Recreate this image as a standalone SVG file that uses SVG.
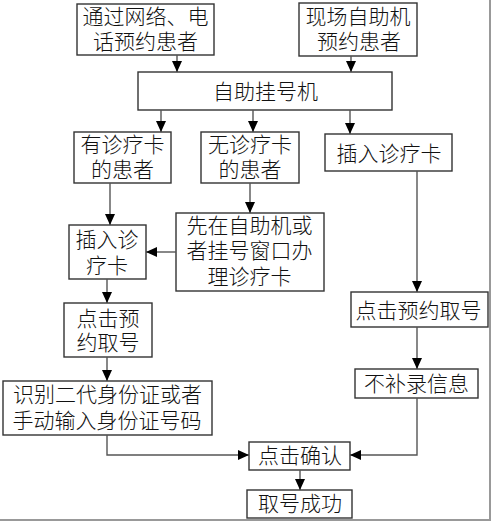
<svg xmlns="http://www.w3.org/2000/svg" width="491" height="521" viewBox="0 0 491 521">
<defs>
<marker id="ah" markerUnits="userSpaceOnUse" markerWidth="12" markerHeight="12" viewBox="0 0 12 12" refX="11" refY="6" orient="auto">
<path d="M0,1 L11,6 L0,11 Z" fill="#000"/>
</marker>
<style>
.box{fill:#fff;stroke:#333;stroke-width:1.4}
.t{font-family:"Liberation Serif","Noto Sans CJK SC",serif;font-size:21px;font-weight:300;fill:#111;text-anchor:middle}
.c{fill:none;stroke:#555;stroke-width:1.4;marker-end:url(#ah)}
.frame{stroke:#999;stroke-width:2}
</style>
</defs>
<rect width="491" height="521" fill="#fff"/>
<line class="frame" x1="490" y1="0" x2="490" y2="521"/>
<line class="frame" x1="0" y1="520" x2="491" y2="520"/>
<g id="n1"><rect class="box" x="77" y="4" width="137" height="51"/><text class="t" x="145.5" y="24">通过网络、电</text><text class="t" x="145.5" y="49">话预约患者</text></g>
<g id="n2"><rect class="box" x="299" y="3" width="118" height="53"/><text class="t" x="358" y="24">现场自助机</text><text class="t" x="359" y="49">预约患者</text></g>
<g id="n3"><rect class="box" x="138" y="72" width="254" height="38"/><text class="t" x="265.5" y="99">自助挂号机</text></g>
<g id="n4"><rect class="box" x="74" y="132" width="97" height="51"/><text class="t" x="122.5" y="152">有诊疗卡</text><text class="t" x="122.5" y="176.5">的患者</text></g>
<g id="n5"><rect class="box" x="201" y="132" width="98" height="51"/><text class="t" x="250" y="152">无诊疗卡</text><text class="t" x="250" y="176.5">的患者</text></g>
<g id="n6"><rect class="box" x="325" y="134" width="127" height="37"/><text class="t" x="389" y="161">插入诊疗卡</text></g>
<g id="n7"><rect class="box" x="69" y="225" width="77" height="54"/><text class="t" x="107" y="247">插入诊</text><text class="t" x="107" y="273">疗卡</text></g>
<g id="n8"><rect class="box" x="176" y="213" width="148" height="78"/><text class="t" x="249.5" y="233">先在自助机或</text><text class="t" x="249.5" y="258">者挂号窗口办</text><text class="t" x="249.5" y="284">理诊疗卡</text></g>
<g id="n9"><rect class="box" x="351" y="292" width="137" height="35"/><text class="t" x="418.5" y="318">点击预约取号</text></g>
<g id="n10"><rect class="box" x="64" y="303" width="88" height="54"/><text class="t" x="108" y="325.5">点击预</text><text class="t" x="108" y="349.5">约取号</text></g>
<g id="n11"><rect class="box" x="3" y="381" width="209" height="54"/><text class="t" x="107.5" y="402">识别二代身份证或者</text><text class="t" x="107" y="428">手动输入身份证号码</text></g>
<g id="n12"><rect class="box" x="355" y="369" width="123" height="29"/><text class="t" x="416.5" y="391">不补录信息</text></g>
<g id="n13"><rect class="box" x="249" y="442" width="101" height="28"/><text class="t" x="300" y="463">点击确认</text></g>
<g id="n14"><rect class="box" x="247" y="490" width="105" height="28"/><text class="t" x="300" y="511">取号成功</text></g>
<g id="connectors">
<path class="c" d="M177,55 V72"/>
<path class="c" d="M351,56 V72"/>
<path class="c" d="M161,110 V132"/>
<path class="c" d="M253,110 V132"/>
<path class="c" d="M350,110 V134"/>
<path class="c" d="M110,183 V225"/>
<path class="c" d="M250,183 V213"/>
<path class="c" d="M176,252 H146"/>
<path class="c" d="M107,279 V303"/>
<path class="c" d="M107,357 V381"/>
<path class="c" d="M107,435 V455 H249"/>
<path class="c" d="M300,470 V490"/>
<path class="c" d="M417,171 V292"/>
<path class="c" d="M417,327 V369"/>
<path class="c" d="M417,398 V455 H350"/>
</g>
</svg>
